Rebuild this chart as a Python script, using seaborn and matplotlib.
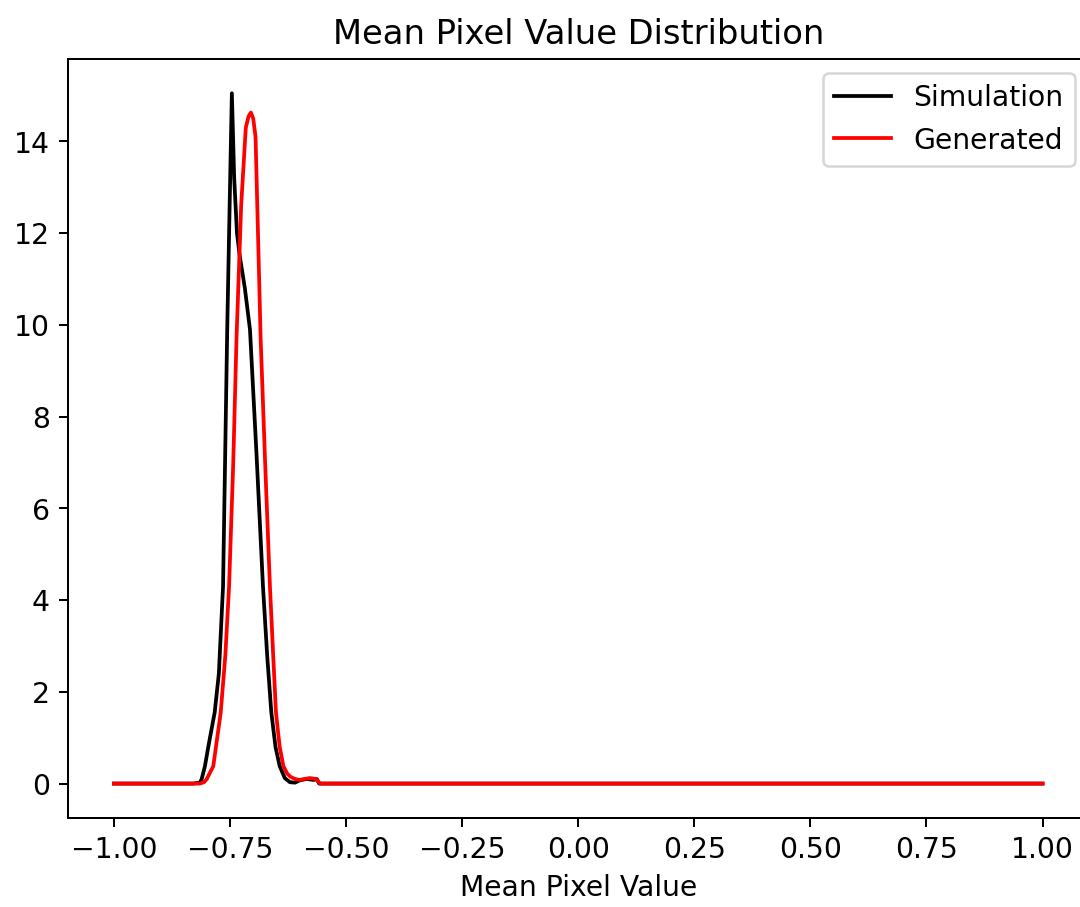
import numpy as np
import pandas as pd
import matplotlib
matplotlib.use("Agg")
import matplotlib.pyplot as plt
import seaborn as sns

# Density curves (x = mean pixel value, y = density)
sim_x = [-1.00, -0.83, -0.815, -0.811, -0.804, -0.795, -0.783, -0.774,
         -0.765, -0.756, -0.751, -0.746, -0.741, -0.735, -0.729, -0.718,
         -0.707, -0.693, -0.679, -0.670, -0.661, -0.652, -0.643, -0.632,
         -0.621, -0.610, -0.600, -0.585, -0.570, -0.563, -0.558, 1.00]
sim_y = [0.0, 0.0, 0.02, 0.1, 0.38, 0.9, 1.55, 2.4,
         4.3, 9.9, 12.5, 15.05, 13.2, 12.0, 11.5, 10.8,
         9.9, 7.2, 4.3, 2.8, 1.55, 0.8, 0.38, 0.12,
         0.03, 0.02, 0.07, 0.1, 0.08, 0.1, 0.0, 0.0]

gen_x = [-1.00, -0.815, -0.806, -0.800, -0.786, -0.770, -0.760, -0.752,
         -0.743, -0.736, -0.726, -0.716, -0.710, -0.705, -0.700, -0.695,
         -0.684, -0.674, -0.664, -0.657, -0.651, -0.643, -0.635, -0.627,
         -0.620, -0.610, -0.600, -0.590, -0.578, -0.565, -0.556, 1.00]
gen_y = [0.0, 0.0, 0.03, 0.1, 0.38, 1.55, 2.8, 4.3,
         7.0, 9.7, 12.6, 14.3, 14.55, 14.63, 14.5, 14.1,
         9.7, 6.9, 4.3, 2.8, 1.55, 0.8, 0.38, 0.22,
         0.15, 0.1, 0.08, 0.1, 0.12, 0.1, 0.0, 0.0]

sim = pd.DataFrame({"x": sim_x, "y": sim_y})
gen = pd.DataFrame({"x": gen_x, "y": gen_y})

plt.rcParams["font.size"] = 11.3

fig = plt.figure(figsize=(6, 5.04), dpi=180)
ax = fig.add_axes([0.0625, 0.098, 0.9458, 0.837])

sns.lineplot(data=sim, x="x", y="y", color="black", label="Simulation", ax=ax, linewidth=1.5)
sns.lineplot(data=gen, x="x", y="y", color="red", label="Generated", ax=ax, linewidth=1.5)

ax.set_title("Mean Pixel Value Distribution", fontsize=13.5)
ax.set_xlabel("Mean Pixel Value")
ax.set_ylabel("")
ax.set_xticks([-1.0, -0.75, -0.5, -0.25, 0.0, 0.25, 0.5, 0.75, 1.0])
ax.set_yticks([0, 2, 4, 6, 8, 10, 12, 14])
ax.legend(loc="upper right")

plt.savefig("out.png", dpi=180)
